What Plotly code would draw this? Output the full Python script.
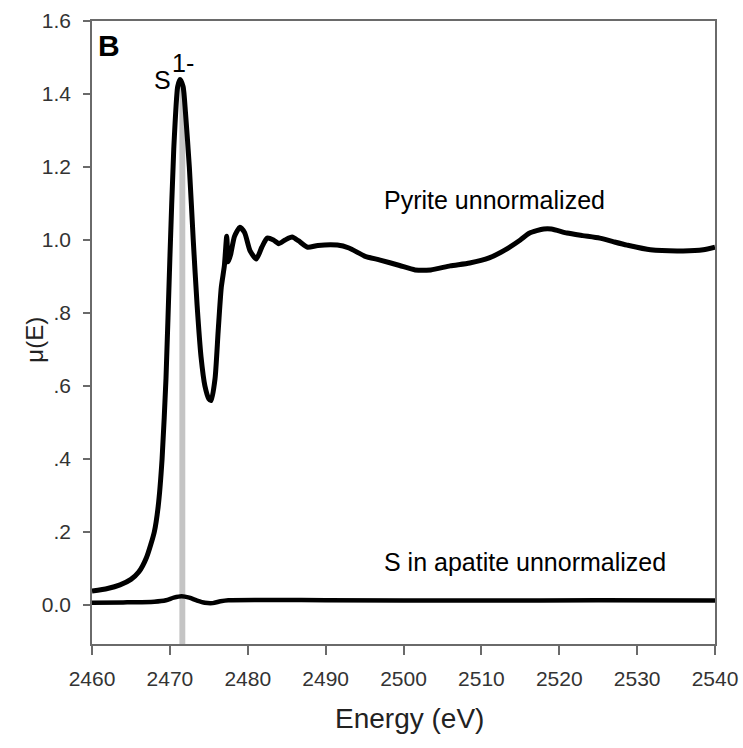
import plotly.graph_objects as go

# Sulfur K-edge XANES spectra (energy in eV, absorption mu(E))
pyrite_energy = [
    2460.0, 2462.0, 2463.6, 2465.0, 2466.0, 2467.0, 2468.0, 2468.5, 2469.0,
    2469.5, 2470.0, 2470.5, 2471.0, 2471.3, 2471.7, 2472.0, 2472.5, 2473.0,
    2473.5, 2474.0, 2474.5, 2475.0, 2475.3, 2475.8, 2476.2, 2476.6, 2477.0,
    2477.3, 2477.5, 2477.8, 2478.3, 2479.0, 2479.6, 2480.3, 2481.1, 2481.8,
    2482.5, 2483.3, 2484.0, 2484.8, 2485.7, 2486.5, 2487.7, 2489.0, 2491.5,
    2493.0, 2495.0, 2497.0, 2499.5, 2501.5, 2503.5, 2506.0, 2508.5, 2511.0,
    2513.0, 2515.0, 2516.2, 2518.0, 2519.0, 2521.0, 2523.0, 2525.2, 2527.0,
    2528.7, 2531.7, 2535.9, 2538.5, 2540.0,
]
pyrite_mu = [
    0.038, 0.045, 0.055, 0.070, 0.090, 0.130, 0.200, 0.270, 0.400,
    0.620, 0.950, 1.250, 1.420, 1.440, 1.420, 1.350, 1.200, 1.000,
    0.820, 0.680, 0.600, 0.565, 0.560, 0.620, 0.750, 0.870, 0.930,
    1.010, 0.940, 0.960, 1.010, 1.035, 1.020, 0.970, 0.948, 0.980,
    1.005, 1.000, 0.990, 1.000, 1.008, 0.998, 0.980, 0.985, 0.986,
    0.978, 0.956, 0.945, 0.930, 0.918, 0.918, 0.929, 0.937, 0.951,
    0.972, 1.000, 1.019, 1.030, 1.030, 1.019, 1.012, 1.005, 0.995,
    0.986, 0.973, 0.970, 0.973, 0.980,
]

apatite_energy = [
    2460.0, 2464.0, 2468.0, 2469.5, 2470.5, 2471.5, 2472.5, 2473.5, 2474.5,
    2475.5, 2476.5, 2477.5, 2490.0, 2510.0, 2525.0, 2540.0,
]
apatite_mu = [
    0.006, 0.007, 0.009, 0.013, 0.020, 0.024, 0.020, 0.012, 0.006,
    0.005, 0.010, 0.013, 0.013, 0.012, 0.013, 0.012,
]

s1_edge_energy = 2471.6  # white-line position of S(1-)

x_ticks = [2460, 2470, 2480, 2490, 2500, 2510, 2520, 2530, 2540]
y_ticks = [0.0, 0.2, 0.4, 0.6, 0.8, 1.0, 1.2, 1.4, 1.6]
y_tick_text = ["0.0", ".2", ".4", ".6", ".8", "1.0", "1.2", "1.4", "1.6"]

x_range = [2460, 2540]
y_range = [-0.107, 1.6]

FONT = "Arial, Liberation Sans, sans-serif"
AXIS_COLOR = "#6a6a6a"

fig = go.Figure()

# vertical marker at the S(1-) white line
fig.add_shape(
    type="rect", xref="x", yref="y",
    x0=s1_edge_energy - 0.38, x1=s1_edge_energy + 0.38,
    y0=y_range[0], y1=1.42,
    fillcolor="#c4c4c4", line=dict(width=0), layer="below",
)

fig.add_trace(go.Scatter(
    x=apatite_energy, y=apatite_mu, mode="lines",
    line=dict(color="black", width=4.5, shape="spline", smoothing=0.6),
    showlegend=False,
))
fig.add_trace(go.Scatter(
    x=pyrite_energy, y=pyrite_mu, mode="lines",
    line=dict(color="black", width=5, shape="spline", smoothing=0.6),
    showlegend=False,
))

text_font = dict(family=FONT, size=25, color="black")
annotations = [
    dict(x=2462.2, y=1.534, text="<b>B</b>", font=dict(family=FONT, size=30, color="black"),
         xanchor="center", yanchor="middle"),
    dict(x=2469.0, y=1.438, text="S", font=text_font, xanchor="center", yanchor="middle"),
    dict(x=2471.7, y=1.485, text="1-", font=text_font, xanchor="center", yanchor="middle"),
    dict(x=2497.2, y=1.11, text="Pyrite unnormalized", font=text_font,
         xanchor="left", yanchor="middle"),
    dict(x=2497.2, y=0.118, text="S in apatite unnormalized", font=text_font,
         xanchor="left", yanchor="middle"),
    dict(x=0.509, y=-0.119, xref="paper", yref="paper", text="Energy (eV)",
         font=dict(family=FONT, size=28, color="#222222"), showarrow=False,
         xanchor="center", yanchor="middle"),
    dict(x=-0.092, y=0.488, xref="paper", yref="paper", text="\u03bc(E)", textangle=-90,
         font=dict(family=FONT, size=24, color="#222222"), showarrow=False,
         xanchor="center", yanchor="middle"),
]
for a in annotations:
    a.setdefault("showarrow", False)
    a.setdefault("xref", "x")
    a.setdefault("yref", "y")

fig.update_layout(
    width=743, height=748,
    margin=dict(l=92, r=28, t=21, b=104, autoexpand=False),
    plot_bgcolor="white", paper_bgcolor="white",
    annotations=annotations,
    xaxis=dict(
        range=x_range, tickvals=x_ticks, ticks="outside", ticklen=9, tickwidth=1.5,
        tickcolor=AXIS_COLOR, showline=True, linecolor=AXIS_COLOR, linewidth=1.5,
        mirror=True, showgrid=False, zeroline=False, automargin=False,
        ticklabelstandoff=6,
        tickfont=dict(family=FONT, size=21, color="#333333"),
    ),
    yaxis=dict(
        range=y_range, tickvals=y_ticks, ticktext=y_tick_text, ticks="outside",
        ticklen=7, tickwidth=1.5, tickcolor=AXIS_COLOR, showline=True,
        linecolor=AXIS_COLOR, linewidth=1.5, mirror=True, showgrid=False,
        zeroline=False, automargin=False, ticklabelstandoff=8,
        tickfont=dict(family=FONT, size=21, color="#333333"),
    ),
)

fig.write_html("out.html")
